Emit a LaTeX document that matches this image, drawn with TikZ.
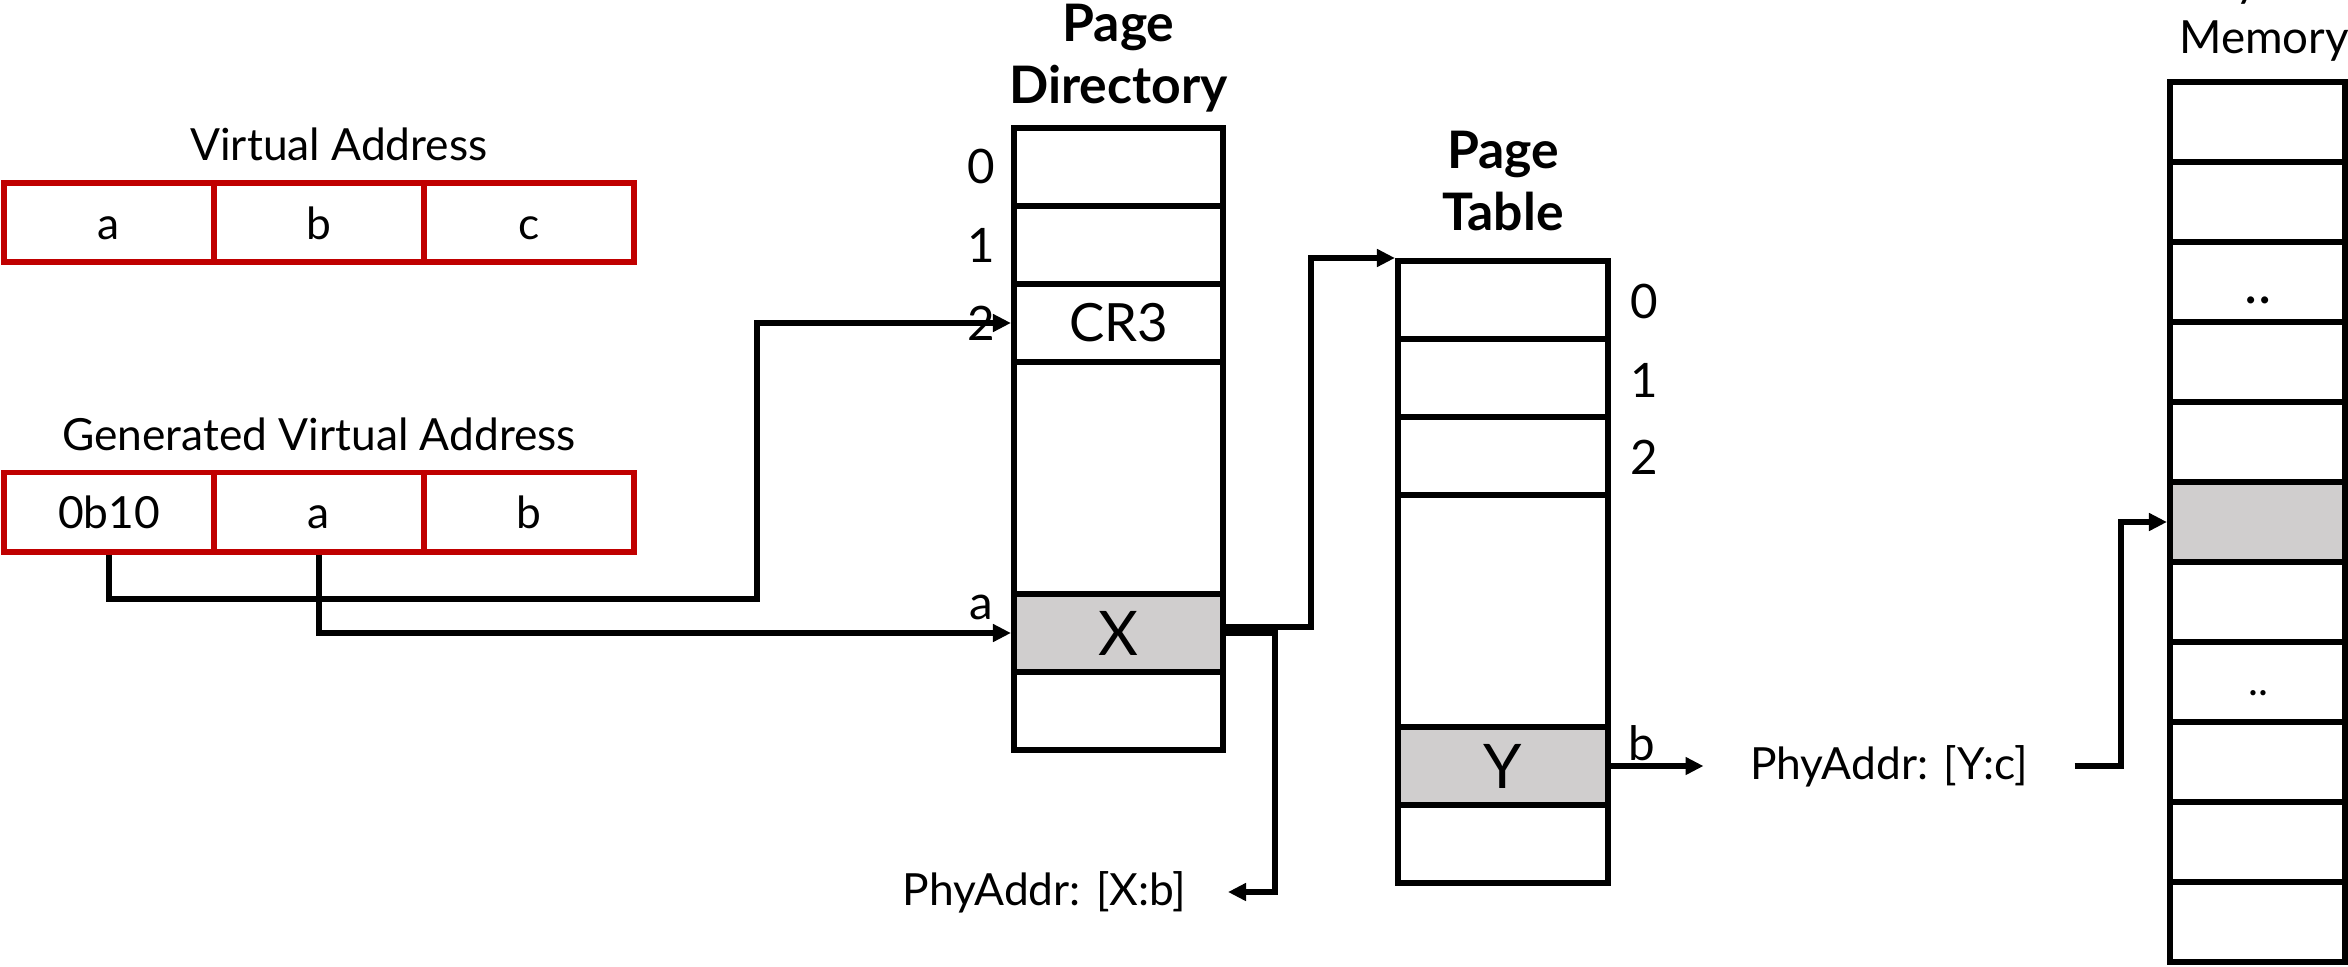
\documentclass[tikz,border=0pt]{standalone}
\usepackage{fontspec}
\setmainfont{Lato}
\usetikzlibrary{arrows.meta}
\definecolor{boxred}{RGB}{192,0,0}
\definecolor{cellgray}{RGB}{208,206,206}
\begin{document}
\begin{tikzpicture}[x=0.01cm, y=-0.01cm,
  every node/.style={font=\fontsize{12.6}{16}\selectfont},
  redcell/.style={draw=boxred, line width=1.7pt, minimum width=2.10cm, minimum height=0.79cm, inner sep=0pt, text height=0.33cm, text depth=0pt},
  cell/.style={draw=black, line width=1.7pt, minimum width=2.09cm, minimum height=0.78cm, inner sep=0pt},
  memcell/.style={draw=black, line width=1.7pt, minimum width=1.75cm, minimum height=0.80cm, inner sep=0pt},
  bigcell/.style={cell, minimum height=2.32cm},
  hot/.style={fill=cellgray},
  entry/.style={font=\fontsize{15}{17}\selectfont},
  bigentry/.style={font=\fontsize{17.5}{20}\selectfont},
  idx/.style={font=\fontsize{13.5}{16}\selectfont, inner sep=0pt},
  title/.style={font=\bfseries\fontsize{14.7}{17.6}\selectfont, align=center, inner sep=0pt},
  conn/.style={draw=black, line width=1.7pt},
  arr/.style={-{Triangle[length=0.18cm,width=0.17cm]}}
]
\useasboundingbox (0,0) rectangle (2348,966);
\clip (0,0) rectangle (2348,966);

% Virtual address
\node[anchor=base] (valbl) at (339,160) {Virtual Address};
\node[redcell] (va1) at (109,222.5) {a};
\node[redcell] (va2) at (319,222.5) {b};
\node[redcell] (va3) at (529,222.5) {c};

% Generated virtual address
\node[anchor=base] (gvalbl) at (319,450) {Generated Virtual Address};
\node[redcell] (g1) at (109,512) {0b10};
\node[redcell] (g2) at (319,512) {a};
\node[redcell] (g3) at (529,512) {b};

% Page directory
\node[title, anchor=base] (pdt) at (1118.5,103) {Page\\Directory};
\node[cell] (pd0) at (1118.5,167) {};
\node[cell] (pd1) at (1118.5,245) {};
\node[cell, entry] (pd2) at (1118.5,323) {CR3};
\node[bigcell] (pdg) at (1118.5,478) {};
\node[cell, hot, bigentry] (pdx) at (1118.5,633) {X};
\node[cell] (pd5) at (1118.5,711) {};
\node[idx] (pdi0) at (981,166) {0};
\node[idx] (pdi1) at (981,245) {1};
\node[idx] (pdi2) at (981,323) {2};
\node[idx, anchor=base] (pdia) at (981,619) {a};

% Page table
\node[title, anchor=base] (ptt) at (1503,230) {Page\\Table};
\node[cell, minimum width=2.10cm] (pt0) at (1503,300) {};
\node[cell, minimum width=2.10cm] (pt1) at (1503,378) {};
\node[cell, minimum width=2.10cm] (pt2) at (1503,456) {};
\node[bigcell, minimum width=2.10cm] (ptg) at (1503,611) {};
\node[cell, minimum width=2.10cm, hot, bigentry] (pty) at (1503,766) {Y};
\node[cell, minimum width=2.10cm] (pt5) at (1503,844) {};
\node[idx] (pti0) at (1644,301) {0};
\node[idx] (pti1) at (1644,380) {1};
\node[idx] (pti2) at (1644,457) {2};
\node[idx, anchor=base] (ptib) at (1642,760) {b};

% Physical memory
\node[align=center, anchor=base, inner sep=0pt, font=\fontsize{13}{16}\selectfont] (pmt) at (2264,53) {Physical\\Memory};
\foreach \i in {0,...,10} {
  \node[memcell] (pm\i) at (2257.5,{122+80*\i}) {};
}
\node[memcell, hot] (pm5) at (2257.5,522) {};
\node[inner sep=0pt, font=\fontsize{16}{16}\selectfont] (dots1) at (2258,300) {..};
\node[inner sep=0pt, font=\fontsize{12}{12}\selectfont] (dots2) at (2258,693) {..};

% Physical address labels
\node[anchor=east, inner xsep=0.41cm, inner ysep=0pt] (phx) at (1228,892) {PhyAddr: [X:b]};
\node[inner xsep=0.46cm, inner ysep=0pt] (phy) at (1889,766) {PhyAddr: [Y:c]};

% Connector bends
\coordinate (k0) at (757,599);
\coordinate (j1) at (1311,0);
\coordinate (j2) at (1275,0);
\coordinate (j3) at (2121,0);

% Connectors
\draw[conn, arr] (g1.south) |- (k0) |- (pd2.west);
\draw[conn, arr] (g2.south) |- (pdx.west);
\draw[conn, arr] ([yshift=0.06cm]pdx.east) -| (j1 |- pt0.north west) -- (pt0.north west);
\draw[conn, arr] (pdx.east) -| (j2 |- phx.east) -- (phx.east);
\draw[conn, arr] (pty.east) -- (pty.east -| phy.west);
\draw[conn, arr] (pty.east -| phy.east) -| (j3 |- pm5.west) -- (pm5.west);
\end{tikzpicture}
\end{document}
